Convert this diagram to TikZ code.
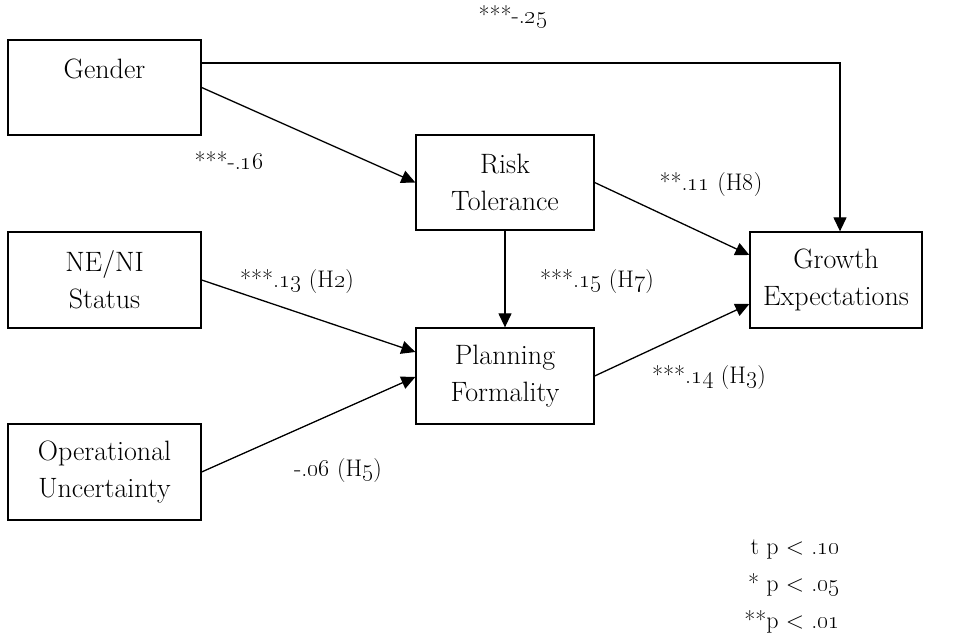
\RequirePackage{fix-cm}
\documentclass[tikz,border=0pt]{standalone}
\usetikzlibrary{arrows.meta, positioning}
\newcommand{\os}[1]{\oldstylenums{#1}}

\begin{document}
\begin{tikzpicture}[x=1pt, y=1pt, line width=1.3pt,
    every node/.style={font=\fontsize{28}{37}\selectfont},
    var/.style={draw, rectangle, align=center, inner sep=0pt},
    coef/.style={font=\fontsize{24}{36}\selectfont},
    path/.style={-{Triangle[length=14pt, width=13pt]}}]
			\useasboundingbox (0,0) rectangle (962,638);

			% Draw the boxes
			\node[var, minimum width=193pt, minimum height=95pt] (Gender) at (104.5, 550.5) {Gender\\ \mbox{}};
			\node[var, minimum width=193pt, minimum height=96pt] (NENI) at (104.5, 358) {NE/NI\\ Status};
			\node[var, minimum width=193pt, minimum height=96pt] (OpUnc) at (104.5, 166) {Operational\\ Uncertainty};
			\node[var, minimum width=178pt, minimum height=95pt] (Risk) at (505, 455.5) {Risk\\ Tolerance};
			\node[var, minimum width=178pt, minimum height=96pt] (Plan) at (505, 262) {Planning\\ Formality};
			\node[var, minimum width=172pt, minimum height=96pt] (Growth) at (836, 358) {Growth\\ Expectations};

			% Draw the paths
			\draw[path] ([yshift=24.5pt]Gender.east) -| ([xshift=4pt]Growth.north);
			\draw[path] (Gender.east) -- (Risk.west);
			\draw[path] (Risk.east) -- ([yshift=25pt]Growth.west);
			\draw[path] (Risk.south) -- (Plan.north);
			\draw[path] (NENI.east) -- ([yshift=24pt]Plan.west);
			\draw[path] (OpUnc.east) -- ([yshift=-1pt]Plan.west);
			\draw[path] (Plan.east) -- ([yshift=-24pt]Growth.west);

			% Coefficients
			\node[coef] (L25) at (513, 621) {***-.\os{25}};
			\node[coef] (L16) at (229, 477) {***-.\os{16}};
			\node[coef] (L11) at (711, 453) {**.\os{11} (H\os{8})};
			\node[coef] (L13) at (297, 356) {***.\os{13} (H\os{2})};
			\node[coef] (L15) at (597, 356) {***.\os{15} (H\os{7})};
			\node[coef] (L14) at (709, 260) {***.\os{14} (H\os{3})};
			\node[coef] (L06) at (338, 167) {-.\os{06} (H\os{5})};

			% Legend
			\node[coef, anchor=east] (P10) at (844, 89) {t p < .\os{10}};
			\node[coef, anchor=east] (P05) at (844, 53) {* p < .\os{05}};
			\node[coef, anchor=east] (P01) at (844, 16) {**p < .\os{01}};

		\end{tikzpicture}
\end{document}
